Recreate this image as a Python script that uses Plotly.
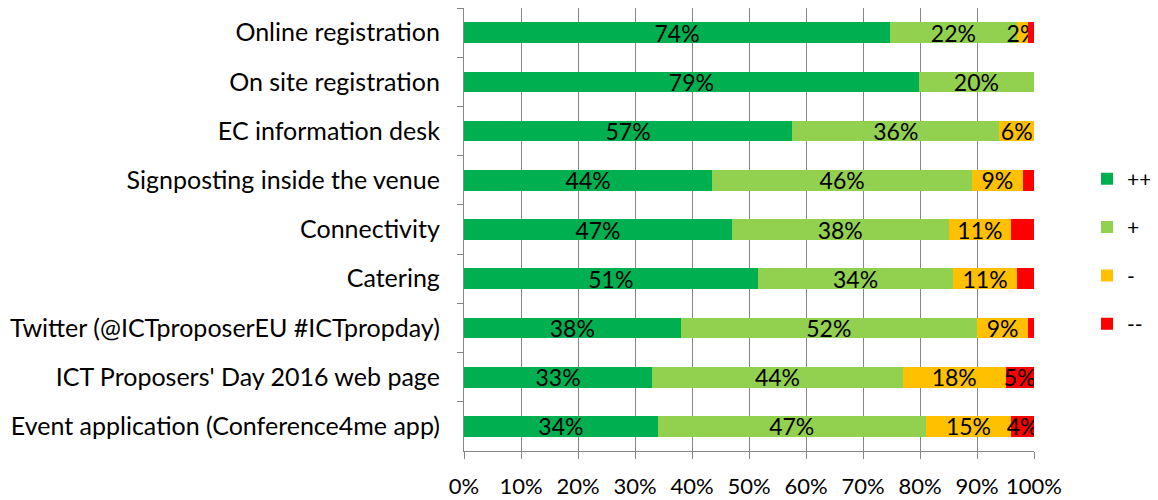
import plotly.graph_objects as go

# Catégories (de haut en bas)
categories = [
    "Online registration",
    "On site registration",
    "EC information desk",
    "Signposting inside the venue",
    "Connectivity",
    "Catering",
    "Twitter (@ICTproposerEU #ICTpropday)",
    "ICT Proposers' Day 2016 web page",
    "Event application (Conference4me app)",
]

# Pourcentages par appréciation
very_good = [74, 79, 57, 44, 47, 51, 38, 33, 34]
good = [22, 20, 36, 46, 38, 34, 52, 44, 47]
bad = [2, 0, 6, 9, 11, 11, 9, 18, 15]
very_bad = [1, 0, 0, 2, 4, 3, 1, 5, 4]

# Étiquettes affichées pour "--" (seules certaines sont visibles)
very_bad_labels = ["", "", "", "", "", "", "", "5%", "4%"]

series = [
    ("++", very_good, "#00B050", [f"{v}%" if v else "" for v in very_good]),
    ("+", good, "#92D050", [f"{v}%" if v else "" for v in good]),
    ("-", bad, "#FFC000", [f"{v}%" if v else "" for v in bad]),
    ("--", very_bad, "#FF0000", very_bad_labels),
]

FONT = "Lato"

fig = go.Figure()

for name, values, color, labels in series:
    fig.add_trace(go.Bar(
        y=categories,
        x=values,
        name=name,
        orientation="h",
        marker=dict(color=color, line=dict(width=0)),
        text=labels,
        textposition="inside",
        insidetextanchor="middle",
        textangle=0,
        textfont=dict(size=23, color="#000000", family=FONT),
        legendgroup=name,
        width=0.42,
    ))

# La page HTML ajoute une marge de 8 px autour du graphique : on compense
fig.update_layout(
    barmode="stack",
    barnorm="percent",
    uniformtext=dict(minsize=23, mode="show"),
    paper_bgcolor="white",
    plot_bgcolor="white",
    width=1158,
    height=500,
    margin=dict(l=456, r=132, t=0, b=57, autoexpand=False),
    font=dict(family=FONT, size=22, color="#000000"),
    xaxis=dict(
        range=[0, 100],
        dtick=10,
        ticksuffix="%",
        showgrid=True,
        gridcolor="#878787",
        gridwidth=1.3,
        showline=True,
        linecolor="#878787",
        linewidth=1.3,
        ticks="outside",
        ticklen=7,
        tickcolor="#878787",
        ticklabelstandoff=8,
        zeroline=False,
        tickfont=dict(size=22),
    ),
    yaxis=dict(
        autorange="reversed",
        showline=True,
        linecolor="#878787",
        linewidth=1.3,
        ticks="outside",
        ticklen=6,
        tickcolor="#878787",
        tickson="boundaries",
        ticklabelstandoff=18,
        showgrid=False,
        tickfont=dict(size=25),
    ),
    legend=dict(
        x=1.093,
        y=0.45,
        xanchor="left",
        yanchor="middle",
        traceorder="grouped",
        tracegroupgap=18,
        font=dict(size=21),
        bgcolor="rgba(0,0,0,0)",
    ),
    showlegend=True,
)

fig.write_html("out.html")
